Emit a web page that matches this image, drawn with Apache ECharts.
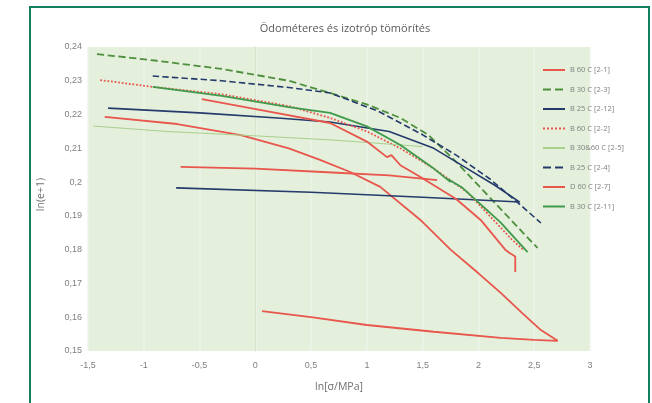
<!DOCTYPE html>
<html><head><meta charset="utf-8">
<script src="https://cdn.jsdelivr.net/npm/echarts@6/dist/echarts.min.js"></script>
<style>html,body{margin:0;padding:0;background:#fff}#c{width:652px;height:403px}</style>
</head><body><div id="c"></div>
<script>
var titleText = 'Ödométeres és izotróp tömörítés';
var xName = 'ln[σ/MPa]';
var yName = 'ln(e+1)';
var seriesNames = ['B 60 C [2-1]','B 30 C [2-3]','B 25 C [2-12]','B 60 C [2-2]','B 30&60 C [2-5]','B 25 C [2-4]','D 60 C [2-7]','B 30 C [2-11]'];

var s21 = [[-1.35,0.2193],[-0.7,0.2172],[-0.13,0.2139],[0.3,0.2100],[0.58,0.2066],[0.85,0.2030],[1.12,0.1986],[1.48,0.1888],[1.75,0.1800],[2.0,0.1730],[2.2,0.1672],[2.4,0.1610],[2.56,0.1562],[2.71,0.1530],[2.5,0.1533],[2.2,0.1539],[1.6,0.1557],[1.0,0.1577],[0.5,0.1600],[0.06,0.1618]];
var s23 = [[-1.42,0.2379],[-0.9,0.2360],[-0.3,0.2335],[0.3,0.2300],[0.67,0.2264],[1.0,0.2230],[1.3,0.2190],[1.55,0.2140],[1.8,0.2060],[2.0,0.1990],[2.2,0.1920],[2.4,0.1850],[2.53,0.1805]];
var s212 = [[-1.32,0.2219],[-0.5,0.2205],[0.2,0.2190],[0.67,0.2178],[1.2,0.2150],[1.6,0.2100],[1.9,0.2040],[2.15,0.1990],[2.37,0.1941],[1.5,0.1955],[0.5,0.1970],[-0.71,0.1983]];
var s22 = [[-1.39,0.2302],[-0.92,0.2282],[-0.3,0.2260],[0.3,0.2225],[0.67,0.2190],[1.0,0.2150],[1.3,0.2100],[1.6,0.2040],[1.9,0.1970],[2.1,0.1900],[2.3,0.1830],[2.4,0.1800]];
var s25 = [[-1.45,0.2166],[-0.8,0.2150],[0.0,0.2137],[0.67,0.2125],[1.1,0.2115],[1.5,0.2105]];
var s24 = [[-0.92,0.2314],[-0.3,0.2300],[0.3,0.2280],[0.67,0.2264],[1.1,0.2210],[1.5,0.2140],[1.8,0.2080],[2.1,0.2010],[2.35,0.1940],[2.56,0.1879]];
var s27 = [[-0.48,0.2246],[0.1,0.2210],[0.67,0.2175],[1.0,0.2120],[1.18,0.2074],[1.22,0.2080],[1.3,0.2050],[1.48,0.2015],[1.8,0.1950],[2.02,0.1888],[2.24,0.1800],[2.28,0.1790],[2.33,0.1780],[2.33,0.1734]];
var s27b = [[-0.67,0.2045],[0.0,0.2040],[0.6,0.2030],[1.2,0.2020],[1.63,0.2006]];
var s211 = [[-0.92,0.2282],[-0.3,0.2255],[0.3,0.2222],[0.67,0.2205],[1.0,0.2165],[1.3,0.2110],[1.6,0.2040],[1.75,0.2000],[1.72,0.2010],[1.85,0.1985],[2.0,0.1940],[2.1,0.1910],[2.05,0.1925],[2.2,0.1880],[2.44,0.1793]];

var red='#e8564c', navy='#243b6b', green='#3f9a4b', lgreen='#a8d08d', dgreen='#4d8f3d';
function ser(name,data,color,type,width){
  return {name:name,type:'line',data:data,symbol:'none',showSymbol:false,smooth:false,
    lineStyle:{color:color,width:width||1.8,type:type||'solid'},itemStyle:{color:color},z:3};
}
var chart = echarts.init(document.getElementById('c'));
chart.setOption({
  animation:false,
  backgroundColor:'#fff',
  title:{text:titleText,left:340,textAlign:'center',top:18,textStyle:{fontSize:11,fontWeight:'normal',color:'#595959',fontFamily:'Open Sans'}},
  grid:{left:88,right:62,top:47,bottom:52,show:true,backgroundColor:'#e4efdc',borderWidth:0},
  legend:{orient:'vertical',left:537,top:61,itemWidth:22,itemHeight:8,itemGap:11.5,
    itemStyle:{opacity:0},
    textStyle:{fontSize:7.5,color:'#808080',fontFamily:'Open Sans'},data:seriesNames},
  xAxis:{type:'value',min:-1.5,max:3,interval:0.5,name:xName,nameLocation:'middle',nameGap:31,
    nameTextStyle:{fontSize:10.5,color:'#707070',fontFamily:'Open Sans'},
    axisLine:{show:false},axisTick:{show:false},
    axisLabel:{fontSize:9,color:'#808080',margin:10,formatter:function(v){return String(v).replace('.',',');}},
    splitLine:{show:true,lineStyle:{color:'#eef5ea',width:1.5}}},
  yAxis:{type:'value',min:0.15,max:0.24,interval:0.01,
    axisLine:{show:true,onZero:true,lineStyle:{color:'#d6e6cc'}},axisTick:{show:false},
    axisLabel:{fontSize:9,color:'#808080',margin:6,formatter:function(v){return String(Math.round(v*100)/100).replace('.',',');}},
    splitLine:{show:false}},
  graphic:[
    {type:'rect',shape:{x:30,y:7,width:619,height:420},style:{fill:'none',stroke:'#12805e',lineWidth:2},z:10},
    {type:'text',left:36,top:178,rotation:Math.PI/2,style:{text:yName,fontSize:10.5,fill:'#707070',fontFamily:'Open Sans'}}
  ],
  series:[
    ser(seriesNames[0],s21,red,'solid',1.8),
    ser(seriesNames[1],s23,dgreen,'dashed',1.8),
    ser(seriesNames[2],s212,navy,'solid',1.6),
    ser(seriesNames[3],s22,red,'dotted',1.8),
    ser(seriesNames[4],s25,lgreen,'solid',1.0),
    ser(seriesNames[5],s24,navy,'dashed',1.6),
    ser(seriesNames[6],s27,red,'solid',1.8),
    ser(seriesNames[7],s211,green,'solid',1.8),
    {name:seriesNames[6],type:'line',data:s27b,symbol:'none',lineStyle:{color:red,width:1.8},itemStyle:{color:red},z:3}
  ]
});
</script></body></html>
